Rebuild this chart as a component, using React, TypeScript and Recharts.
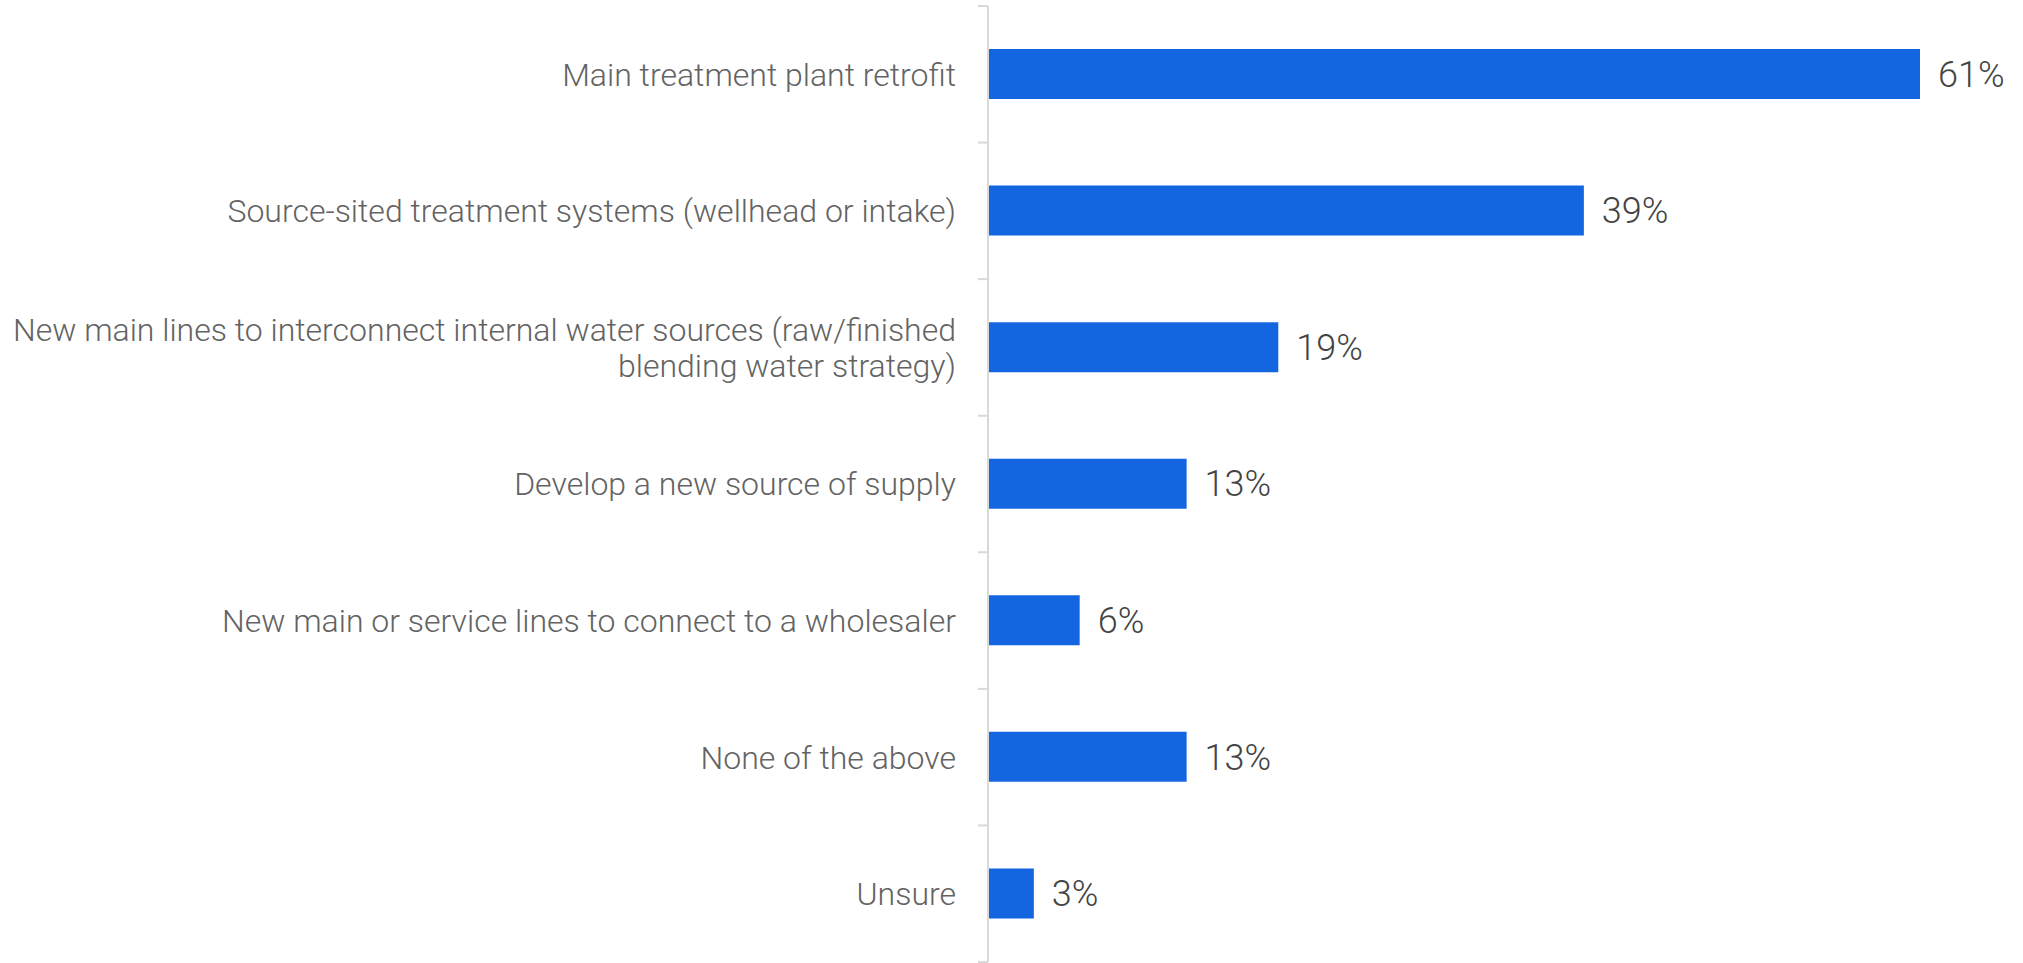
import React, { FC } from "react";
import { Bar, BarChart, LabelList, XAxis, YAxis } from "recharts";

const categories = [
  "Main treatment plant retrofit",
  "Source-sited treatment systems (wellhead or intake)",
  "New main lines to interconnect internal water sources (raw/finished\nblending water strategy)",
  "Develop a new source of supply",
  "New main or service lines to connect to a wholesaler",
  "None of the above",
  "Unsure",
];
const shares = [61, 39, 19, 13, 6, 13, 3];

const data = categories.map((name, i) => ({ name, value: shares[i] }));

const WIDTH = 2023;
const HEIGHT = 963;
const MARGIN = { top: 6, right: 103, bottom: 1, left: 0 };
const AXIS_W = 988;
const TICK_SIZE = 10;
const TICK_MARGIN = 22;
const BAND = (HEIGHT - MARGIN.top - MARGIN.bottom) / categories.length;
const LINE_H = 36;

const CategoryTick: FC<any> = ({ x, y, payload, index }) => {
  const lines = String(payload.value).split("\n");
  const axisX = x + TICK_SIZE + TICK_MARGIN;
  const top = y - ((lines.length - 1) / 2) * LINE_H;
  return (
    <g>
      <line
        x1={axisX - TICK_SIZE}
        x2={axisX}
        y1={y - BAND / 2}
        y2={y - BAND / 2}
        stroke="#d9d9d9"
        strokeWidth={2}
      />
      {index === categories.length - 1 && (
        <line
          x1={axisX - TICK_SIZE}
          x2={axisX}
          y1={y + BAND / 2}
          y2={y + BAND / 2}
          stroke="#d9d9d9"
          strokeWidth={2}
        />
      )}
      <text
        x={x}
        y={top}
        textAnchor="end"
        fill="#636363"
        fontSize={32}
        fontWeight={300}
        fontFamily="Roboto"
      >
        {lines.map((l, i) => (
          <tspan key={i} x={x} dy={i === 0 ? "0.355em" : LINE_H}>
            {l}
          </tspan>
        ))}
      </text>
    </g>
  );
};

const App: FC<{}> = () => {
  return (
    <div style={{ position: "absolute", left: 0, top: 0 }}>
      <BarChart
        width={WIDTH}
        height={HEIGHT}
        data={data}
        layout="vertical"
        margin={MARGIN}
      >
        <XAxis type="number" domain={[0, 61]} hide />
        <YAxis
          type="category"
          dataKey="name"
          width={AXIS_W}
          axisLine={{ stroke: "#d9d9d9", strokeWidth: 2 }}
          tickLine={false}
          tickSize={TICK_SIZE}
          tickMargin={TICK_MARGIN}
          tick={<CategoryTick />}
          interval={0}
        />
        <Bar dataKey="value" fill="#1366e0" barSize={50} isAnimationActive={false}>
          <LabelList
            dataKey="value"
            position="right"
            offset={18}
            formatter={(v: any) => `${v}%`}
            fill="#444444"
            fontSize={36}
            fontWeight={300}
            fontFamily="Roboto"
          />
        </Bar>
      </BarChart>
    </div>
  );
};

export default App;
